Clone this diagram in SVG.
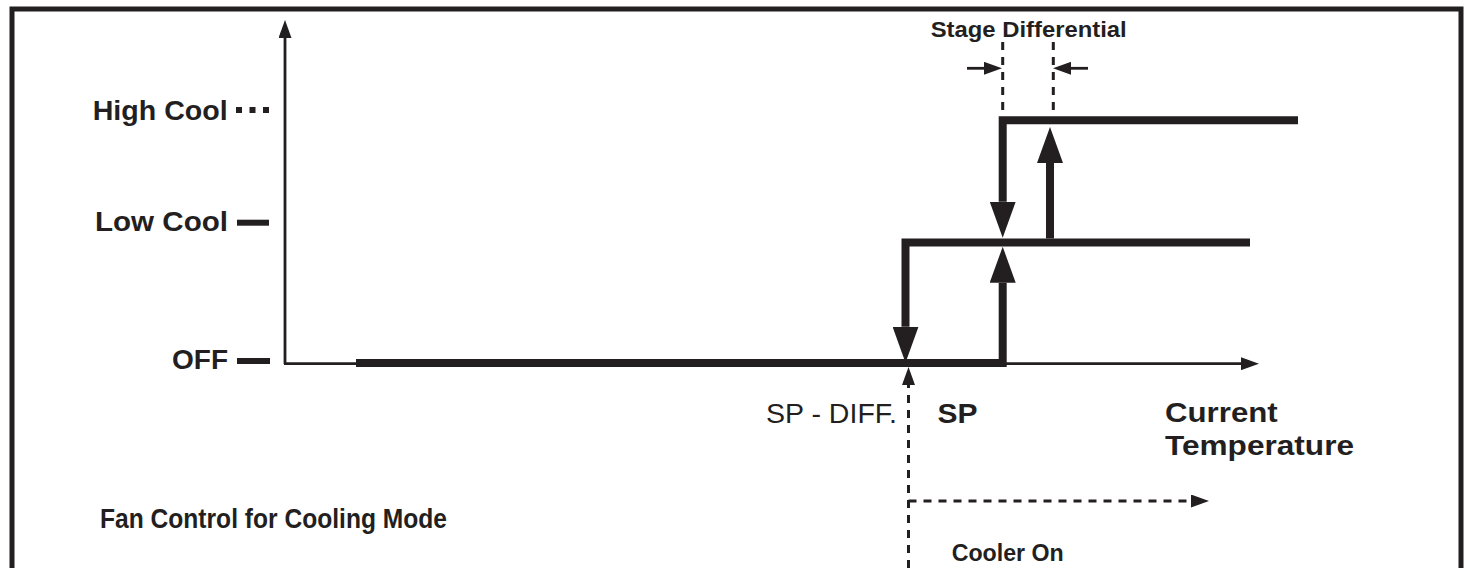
<svg xmlns="http://www.w3.org/2000/svg" width="1466" height="568" viewBox="0 0 1466 568">
<style>
.lbl{font-family:"Liberation Sans",Arial,Helvetica,sans-serif;font-weight:bold;fill:#231f20}
.reg{font-family:"Liberation Sans",Arial,Helvetica,sans-serif;font-weight:normal;fill:#231f20}
.thick{fill:none;stroke:#231f20;stroke-width:8;stroke-linejoin:miter;stroke-linecap:butt}
.thin{fill:none;stroke:#231f20;stroke-width:2.8}
.dash{fill:none;stroke:#231f20;stroke-width:3;stroke-dasharray:8 7}
.tick{fill:none;stroke:#231f20;stroke-width:6}
</style>
<defs>
<marker id="big" viewBox="0 0 36 26" markerWidth="36" markerHeight="26" markerUnits="userSpaceOnUse" refX="0" refY="13" orient="auto">
<path d="M0,0 L36,13 L0,26 Z" fill="#231f20"/>
</marker>
<marker id="small" viewBox="0 0 18 13" markerWidth="18" markerHeight="13" markerUnits="userSpaceOnUse" refX="0" refY="6.5" orient="auto">
<path d="M0,0 L18,6.5 L0,13 Z" fill="#231f20"/>
</marker>
</defs>
<rect x="12" y="9" width="1449" height="620" fill="#ffffff" stroke="#231f20" stroke-width="5"/>

<g id="axes">
<path class="thin" d="M285,364 V38" marker-end="url(#small)"/>
<path class="thin" d="M284,363.7 H1241" marker-end="url(#small)"/>
</g>

<g id="connectors">
<path class="thick" d="M356,363 H1002.7 V282.7" marker-end="url(#big)"/>
<path class="thick" d="M1250,242.5 H905.5 V326.7" marker-end="url(#big)"/>
<path class="thick" d="M1298,120.3 H1002.7 V201.7" marker-end="url(#big)"/>
<path class="thick" d="M1050,238.5 V163" marker-end="url(#big)"/>
<path class="dash" d="M908.5,568 V385" marker-end="url(#small)"/>
<path class="dash" d="M908.5,501 H1191" marker-end="url(#small)"/>
<path class="dash" d="M1002.7,42 V117"/>
<path class="dash" d="M1053.3,42 V117"/>
<path class="thin" d="M967,68.3 H984" marker-end="url(#small)"/>
<path class="thin" d="M1088,68.3 H1071" marker-end="url(#small)"/>
</g>

<g id="level-high">
<text class="lbl" x="92.7" y="119.5" font-size="27" textLength="135" lengthAdjust="spacingAndGlyphs">High Cool</text>
<line class="tick" x1="236" y1="110" x2="269" y2="110" stroke-dasharray="6 7.5"/>
</g>
<g id="level-low">
<text class="lbl" x="95" y="230.5" font-size="27" textLength="133" lengthAdjust="spacingAndGlyphs">Low Cool</text>
<line class="tick" x1="237" y1="222.7" x2="269" y2="222.7"/>
</g>
<g id="level-off">
<text class="lbl" x="172" y="369" font-size="28" textLength="56" lengthAdjust="spacingAndGlyphs">OFF</text>
<line class="tick" x1="237" y1="361" x2="270" y2="361"/>
</g>

<g id="stage-differential">
<text class="lbl" x="930.7" y="36.7" font-size="22" textLength="196" lengthAdjust="spacingAndGlyphs">Stage Differential</text>
</g>
<g id="sp-diff">
<text class="reg" x="766" y="423" font-size="27" textLength="131" lengthAdjust="spacingAndGlyphs">SP - DIFF.</text>
</g>
<g id="sp">
<text class="lbl" x="937.5" y="423" font-size="28" textLength="40" lengthAdjust="spacingAndGlyphs">SP</text>
</g>
<g id="current-temperature">
<text class="lbl" x="1165" y="421.7" font-size="28" textLength="112.7" lengthAdjust="spacingAndGlyphs">Current</text>
<text class="lbl" x="1165" y="455" font-size="28" textLength="189" lengthAdjust="spacingAndGlyphs">Temperature</text>
</g>
<g id="title">
<text class="lbl" x="100" y="528.3" font-size="28" textLength="347" lengthAdjust="spacingAndGlyphs">Fan Control for Cooling Mode</text>
</g>
<g id="cooler-on">
<text class="lbl" x="951.7" y="561" font-size="23" textLength="112" lengthAdjust="spacingAndGlyphs">Cooler On</text>
</g>
</svg>
